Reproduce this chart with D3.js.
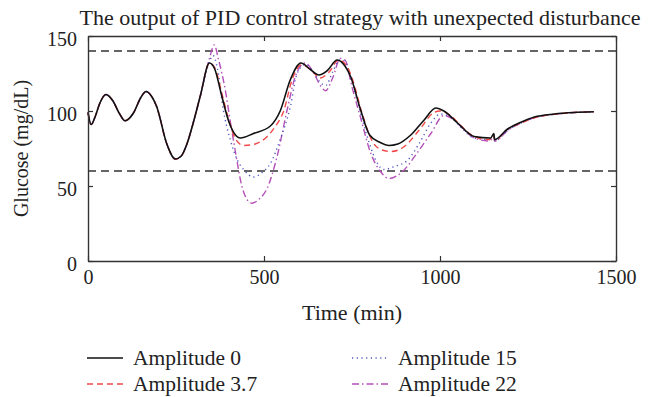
<!DOCTYPE html>
<html>
<head>
<meta charset="utf-8">
<script src="https://cdn.jsdelivr.net/npm/d3@7"></script>
<style>
  body { margin: 0; background: #fff; }
  svg text { font-family: "Liberation Serif", "DejaVu Serif", serif; fill: #222; }
</style>
</head>
<body>
<div id="chart"></div>
<script>
// values: [time (min), glucose (mg/dL)]
const amp0 = [[0,99],[9,91],[20,96],[35,106],[51,111],[70,107],[90,98],[105,93.5],[130,99],[150,109],[165,113],[180,110],[195,103],[224,78],[248,68],[265,70],[281,78],[300,93],[319,110],[345,132],[360,128],[380,110],[400,93],[433,82],[470,85],[518,90],[546,100],[575,121],[605,132],[630,128],[656,124],[680,127],[708,134],[730,130],[746,123],[774,101],[800,84],[830,79],[855,77],[880,78],[917,84],[955,94],[988,102],[1011,100],[1050,92],[1097,83],[1144,82],[1153,85],[1155,81],[1192,88],[1230,92.5],[1268,96],[1325,98],[1381,99],[1437,99.5]];
const amp37 = [[0,99],[9,91],[20,96],[35,106],[51,111],[70,107],[90,98],[105,93.5],[130,99],[150,109],[165,113],[180,110],[195,103],[224,78],[248,68],[265,70],[281,78],[300,93],[319,110],[345,132],[360,129],[380,112],[400,94],[420,81],[442,77],[475,78],[509,83],[530,89],[556,100],[580,121],[608,131],[635,127],[660,122],[685,126],[712,134],[735,130],[750,122],[778,99],[805,81],[835,74],[860,73],[897,76],[940,87],[983,99],[1000,100],[1030,97],[1060,90],[1097,83],[1140,81],[1153,84],[1155,80.5],[1192,88],[1230,92],[1268,95.5],[1325,97.8],[1381,99],[1437,99.5]];
const amp15 = [[0,99],[9,91],[20,96],[35,106],[51,111],[70,107],[90,98],[105,93.5],[130,99],[150,109],[165,113],[180,110],[195,103],[224,78],[248,68],[265,70],[281,78],[300,93],[319,110],[345,133],[355,137],[368,128],[385,100],[404,81],[425,67],[442,61],[471,56],[495,59],[518,65],[546,81],[575,103],[594,125],[617,131],[640,126],[660,119],[675,117],[695,126],[715,134],[730,133],[750,120],[775,98],[800,78],[820,66],[841,61],[870,63],[907,67],[940,78],[974,92],[1002,98],[1030,96],[1060,89],[1097,82],[1140,81],[1153,83],[1155,80],[1192,87],[1230,92],[1268,95.5],[1325,97.8],[1381,99],[1437,99.5]];
const amp22 = [[0,99],[9,91],[20,96],[35,106],[51,111],[70,107],[90,98],[105,93.5],[130,99],[150,109],[165,113],[180,110],[195,103],[224,78],[248,68],[265,70],[281,78],[300,93],[319,110],[345,135],[359,144],[370,135],[390,114],[405,92],[418,74],[437,50],[455,40],[466,38.5],[485,41],[509,48.5],[537,69.5],[566,101],[589,123],[617,132],[640,126],[660,117],[675,113.5],[695,122],[717,135],[730,134],[750,116],[775,95],[803,72],[830,60],[855,55],[893,59.5],[935,72],[974,85],[1011,97],[1040,94],[1070,87],[1097,82],[1140,80],[1153,83],[1155,80],[1192,87],[1230,92],[1268,95.5],[1325,97.8],[1381,99],[1437,99.5]];

const seriesNames = ["Amplitude 0", "Amplitude 3.7", "Amplitude 15", "Amplitude 22"];
const xTicks = [0, 500, 1000, 1500];
const yTicks = [0, 50, 100, 150];
const limits = [60, 140];

const W = 651, H = 397;
const margin = { top: 36, right: 35, bottom: 136, left: 88 };

const svg = d3.select("#chart").append("svg")
    .attr("width", W)
    .attr("height", H);

const x = d3.scaleLinear().domain([0, 1500]).range([margin.left, W - margin.right]);
const y = d3.scaleLinear().domain([0, 150]).range([H - margin.bottom, margin.top]);

// series styles
const styles = [
    { color: "#111", dash: null, width: 1.6 },
    { color: "#f04848", dash: "6,4", width: 1.4 },
    { color: "#5058c0", dash: "1.2,3.5", width: 1.4 },
    { color: "#b450b8", dash: "7,3,1.5,3", width: 1.4 }
];
const allSeries = [amp0, amp37, amp15, amp22];

// limit lines
svg.append("g").selectAll("line")
    .data(limits)
    .join("line")
    .attr("x1", x(0)).attr("x2", x(1500))
    .attr("y1", d => y(d)).attr("y2", d => y(d))
    .attr("stroke", "#333")
    .attr("stroke-width", 1.4)
    .attr("stroke-dasharray", "8,5");

const line = d3.line()
    .x(d => x(d[0]))
    .y(d => y(d[1]))
    .curve(d3.curveMonotoneX);

// draw the disturbed ones first, black on top
const order = [3, 2, 1, 0];
svg.append("g").selectAll("path")
    .data(order)
    .join("path")
    .attr("d", i => line(allSeries[i]))
    .attr("fill", "none")
    .attr("stroke", i => styles[i].color)
    .attr("stroke-width", i => styles[i].width)
    .attr("stroke-dasharray", i => styles[i].dash);

// axes with inward ticks on all sides
const tickLen = 5;
const fmt = d3.format("d");
const xAxisB = svg.append("g")
    .attr("transform", `translate(0,${y(0)})`)
    .call(d3.axisBottom(x).tickValues(xTicks).tickFormat(fmt).tickSize(-tickLen).tickPadding(9).tickSizeOuter(0));
const xAxisT = svg.append("g")
    .attr("transform", `translate(0,${y(150)})`)
    .call(d3.axisTop(x).tickValues(xTicks).tickSize(-tickLen).tickFormat("").tickSizeOuter(0));
const yAxisL = svg.append("g")
    .attr("transform", `translate(${x(0)},0)`)
    .call(d3.axisLeft(y).tickValues(yTicks).tickFormat(fmt).tickSize(-tickLen).tickPadding(11).tickSizeOuter(0));
const yAxisR = svg.append("g")
    .attr("transform", `translate(${x(1500)},0)`)
    .call(d3.axisRight(y).tickValues(yTicks).tickSize(-tickLen).tickFormat("").tickSizeOuter(0));

[xAxisB, xAxisT, yAxisL, yAxisR].forEach(g => {
    g.attr("font-family", null).attr("font-size", null);
    g.select(".domain").attr("stroke", "#333").attr("stroke-width", 1.4);
    g.selectAll(".tick line").attr("stroke", "#333").attr("stroke-width", 1.2);
    g.selectAll(".tick text")
        .style("font-family", '"Liberation Serif", serif')
        .style("font-size", "20px")
        .attr("fill", "#222");
});
yAxisL.selectAll(".tick text").attr("dy", "0.45em");

// title and axis labels
svg.append("text")
    .attr("x", 360).attr("y", 25)
    .attr("text-anchor", "middle")
    .style("font-size", "22px")
    .text("The output of PID control strategy with unexpected disturbance");

svg.append("text")
    .attr("x", (x(0) + x(1500)) / 2).attr("y", 320)
    .attr("text-anchor", "middle")
    .style("font-size", "22px")
    .text("Time (min)");

svg.append("text")
    .attr("transform", `translate(28,${(y(0) + y(150)) / 2}) rotate(-90)`)
    .attr("text-anchor", "middle")
    .style("font-size", "20px")
    .text("Glucose (mg/dL)");

// legend, two columns
const legendPos = [[87, 358], [87, 384], [352, 358], [352, 384]];
const legend = svg.append("g").selectAll("g")
    .data(seriesNames)
    .join("g")
    .attr("transform", (d, i) => `translate(${legendPos[i][0]},${legendPos[i][1]})`);
legend.append("line")
    .attr("x1", 0).attr("x2", 36)
    .attr("y1", 0).attr("y2", 0)
    .attr("stroke", (d, i) => styles[i].color)
    .attr("stroke-width", (d, i) => styles[i].width)
    .attr("stroke-dasharray", (d, i) => styles[i].dash);
legend.append("text")
    .attr("x", 46).attr("y", 7)
    .style("font-size", "21.5px")
    .text(d => d);
</script>
</body>
</html>
